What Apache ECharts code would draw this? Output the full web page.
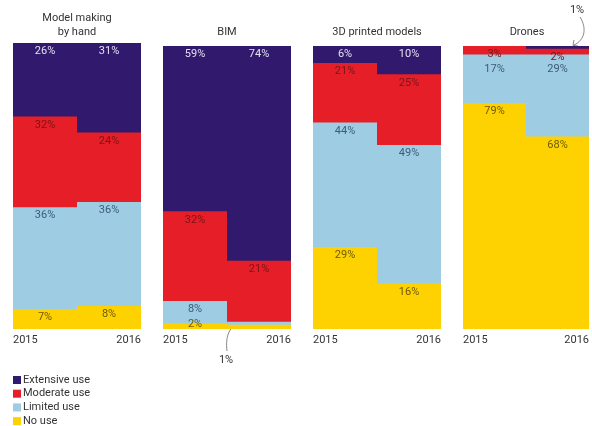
<!DOCTYPE html>
<html><head><meta charset="utf-8">
<script src="https://cdn.jsdelivr.net/npm/echarts@6/dist/echarts.min.js"></script>
<style>html,body{margin:0;padding:0;background:#fff}#c{width:592px;height:426px}</style>
</head><body><div id="c"></div>
<script>
// ---- data ----
const panels = ['Model making\nby hand', 'BIM', '3D printed models', 'Drones'];
const years = ['2015', '2016'];
const seriesNames = ['Extensive use', 'Moderate use', 'Limited use', 'No use'];
const extensiveUse = [[26, 31], [59, 74], [6, 10], [0, 1]];
const moderateUse  = [[32, 24], [32, 21], [21, 25], [3, 2]];
const limitedUse   = [[36, 36], [8, 1], [44, 49], [17, 29]];
const noUse        = [[7, 8], [2, 1.5], [29, 16], [79, 68]];

// ---- layout / style ----
const FONT = 'Roboto';
const FS = 11;
const colors = { 'Extensive use': '#311a6d', 'Moderate use': '#e61e27', 'Limited use': '#9ecce3', 'No use': '#fed200' };
const labelColors = { 'Extensive use': '#e4e0f2', 'Moderate use': '#7c1419', 'Limited use': '#3c5b78', 'No use': '#6d5a05' };
const gridLefts = [13, 163, 313, 463];
const gridTops = [43, 46, 46, 46];
const gridWidth = 128;
const gridBottom = 97;
const labelShift = { '3|Limited use': [0, 6], '1|No use': [0, -8] };

const byName = { 'Extensive use': extensiveUse, 'Moderate use': moderateUse, 'Limited use': limitedUse, 'No use': noUse };
// segments from top to bottom; each drawn as a bar from the baseline up to its cumulative share,
// later (lower) segments painted over earlier ones so that there are no seams between segments
const topToBottom = ['Extensive use', 'Moderate use', 'Limited use', 'No use'];

function total(p, i) {
  return seriesNames.reduce((s, n) => s + byName[n][p][i], 0);
}
function cumulative(p, i, name) {
  const k = topToBottom.indexOf(name);
  let s = 0;
  for (let j = k; j < topToBottom.length; j++) s += byName[topToBottom[j]][p][i];
  return s / total(p, i) * 100;
}

const grid = [], xAxis = [], yAxis = [], series = [];
panels.forEach((title, p) => {
  grid.push({ left: gridLefts[p], top: gridTops[p], width: gridWidth, bottom: gridBottom, show: false });
  xAxis.push({ type: 'category', gridIndex: p, data: years, show: false, position: 'top' });
  xAxis.push({
    type: 'value', gridIndex: p, min: 0, max: 1, interval: 1, position: 'bottom',
    axisLine: { show: false }, axisTick: { show: false }, splitLine: { show: false },
    axisLabel: { formatter: v => years[v] || '', alignMinLabel: 'left', alignMaxLabel: 'right',
      margin: 6, fontSize: FS, color: '#333', fontFamily: FONT }
  });
  yAxis.push({ type: 'value', gridIndex: p, min: 0, max: 100, show: false, splitLine: { show: false } });
  topToBottom.forEach(name => {
    const arr = byName[name][p];
    series.push({
      name, type: 'bar', xAxisIndex: 2 * p, yAxisIndex: p,
      barWidth: '100%', barGap: '-100%', barCategoryGap: '0%',
      itemStyle: { color: colors[name] },
      emphasis: { disabled: true },
      label: {
        show: true, position: 'insideTop', distance: 3,
        offset: labelShift[p + '|' + name] || [0, 0],
        fontFamily: FONT, fontSize: FS, lineHeight: 11, color: labelColors[name],
        formatter: prm => prm.data.raw >= 2 ? prm.data.raw + '%' : ''
      },
      data: years.map((y, i) => arr[i] > 0
        ? { value: cumulative(p, i, name), raw: arr[i] }
        : { value: '-', raw: 0 })
    });
  });
});

const titleGraphics = panels.map((t, p) => ({
  type: 'text', x: gridLefts[p] + gridWidth / 2, y: p === 0 ? 25 : 32,
  style: { text: t, align: 'center', verticalAlign: 'middle', font: FS + 'px ' + FONT, fill: '#333', lineHeight: 14 }
}));

const annot = [
  { type: 'text', x: 226, y: 360, style: { text: '1%', align: 'center', verticalAlign: 'middle', font: FS + 'px ' + FONT, fill: '#333' } },
  { type: 'bezierCurve', shape: { x1: 227, y1: 351, cpx1: 225, cpy1: 335, cpx2: 230, cpy2: 323, x2: 245, y2: 322 }, style: { stroke: '#888', lineWidth: 1, fill: null } },
  { type: 'polyline', shape: { points: [[241, 319], [245, 322], [241, 325]] }, style: { stroke: '#888', lineWidth: 1, fill: null } },
  { type: 'text', x: 577, y: 10, style: { text: '1%', align: 'center', verticalAlign: 'middle', font: FS + 'px ' + FONT, fill: '#333' } },
  { type: 'bezierCurve', shape: { x1: 580, y1: 17, cpx1: 587, cpy1: 28, cpx2: 585, cpy2: 40, x2: 574, y2: 45 }, style: { stroke: '#888', lineWidth: 1, fill: null } },
  { type: 'polyline', shape: { points: [[574, 40], [573, 45.5], [578, 46]] }, style: { stroke: '#888', lineWidth: 1, fill: null } }
];

const chart = echarts.init(document.getElementById('c'), null, { renderer: 'canvas' });
chart.setOption({
  animation: false,
  backgroundColor: '#fff',
  grid, xAxis, yAxis, series,
  legend: {
    data: seriesNames, orient: 'vertical', left: 13, top: 374.5, height: 60, padding: 0,
    itemWidth: 8, itemHeight: 8, itemGap: 2.7, icon: 'rect', selectedMode: false,
    textStyle: { fontFamily: FONT, fontSize: FS, lineHeight: 11, color: '#333', padding: [0, 0, 0, -3] }
  },
  graphic: titleGraphics.concat(annot)
});
</script>
</body></html>
